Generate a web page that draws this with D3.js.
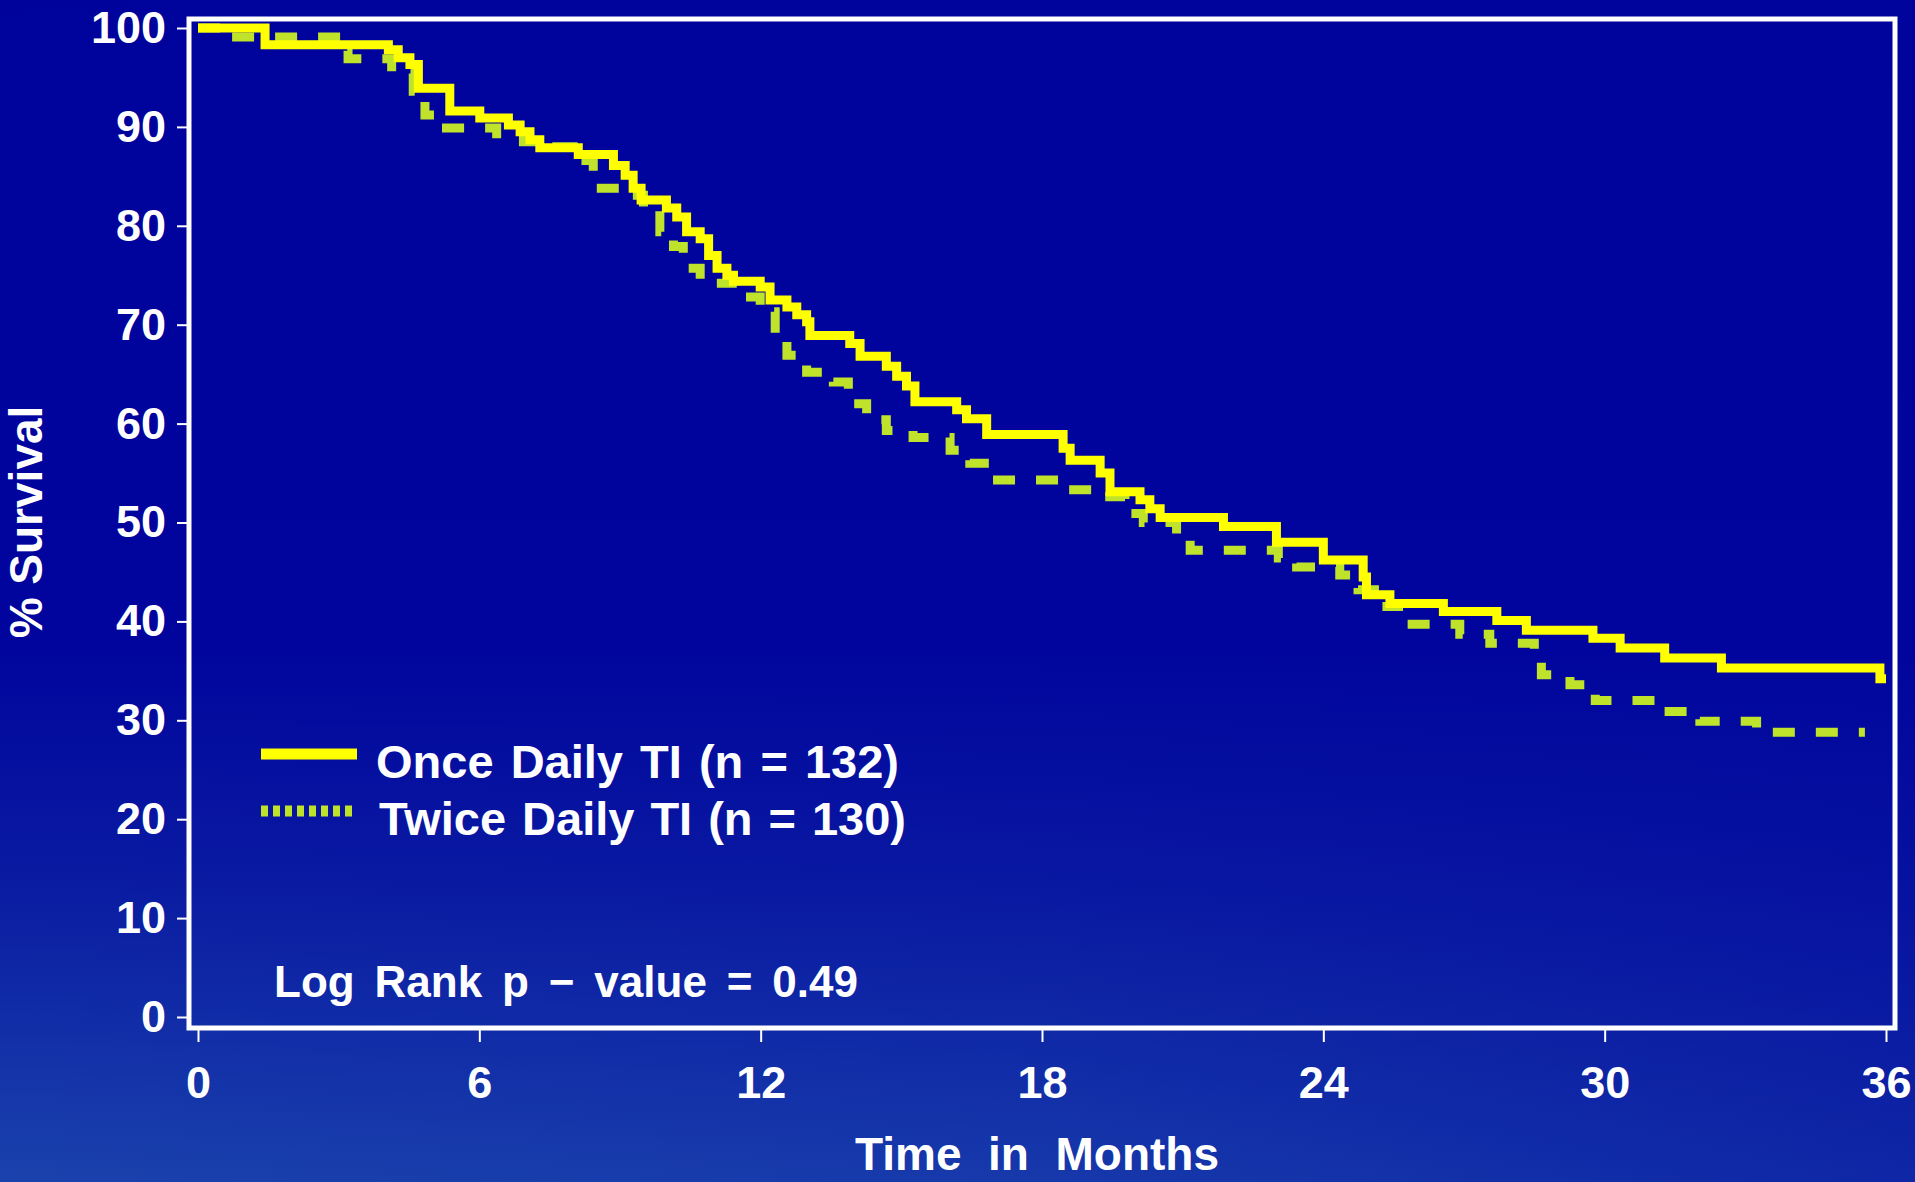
<!DOCTYPE html>
<html>
<head>
<meta charset="utf-8">
<script src="https://cdn.jsdelivr.net/npm/d3@7"></script>
<style>
  html, body { margin: 0; padding: 0; background: #01049a; overflow: hidden; }
  svg { display: block; }
  text { font-family: "Liberation Sans", Arial, Helvetica, sans-serif; font-weight: bold; fill: #ffffff; }
</style>
</head>
<body>
<svg id="chart" width="1915" height="1182"></svg>
<script>
// ---- data ----
const onceMonths = [0, 1.43, 4.06, 4.27, 4.52, 4.70, 5.37, 6.01, 6.62, 6.87, 7.08, 7.29, 8.11, 8.86, 9.11, 9.28, 9.45, 9.99, 10.21, 10.42, 10.71, 10.89, 11.07, 11.28, 11.42, 11.99, 12.2, 12.56, 12.77, 12.98, 13.05, 13.9, 14.12, 14.68, 14.9, 15.11, 15.29, 16.18, 16.39, 16.82, 18.45, 18.6, 19.24, 19.45, 20.09, 20.3, 20.52, 21.87, 23.0, 24.0, 24.85, 24.92, 25.42, 26.56, 27.7, 28.33, 29.75, 30.33, 31.28, 32.49, 35.87, 36.0];
const onceSurv   = [100, 98.3, 97.8, 97.0, 96.3, 93.9, 91.6, 90.9, 90.2, 89.5, 88.7, 87.9, 87.2, 86.1, 85.1, 83.8, 82.6, 81.8, 80.9, 79.4, 78.7, 77.0, 75.7, 75.0, 74.4, 73.8, 72.5, 71.8, 71.0, 70.3, 68.9, 68.1, 66.8, 65.8, 64.8, 63.8, 62.2, 61.4, 60.5, 58.9, 57.5, 56.3, 55.0, 53.1, 52.3, 51.4, 50.5, 49.6, 48.0, 46.2, 44.5, 42.7, 41.8, 41.0, 40.1, 39.1, 38.3, 37.3, 36.3, 35.3, 34.2, 34.2];

const twiceMonths = [0, 0.72, 3.05, 3.2, 4.13, 4.59, 4.84, 5.3, 6.37, 6.94, 7.54, 8.0, 8.43, 9.0, 9.5, 9.85, 10.14, 10.35, 10.71, 11.49, 11.99, 12.31, 12.56, 12.98, 13.55, 13.87, 14.26, 14.68, 15.25, 16.04, 16.46, 16.93, 18.56, 19.13, 19.77, 20.16, 20.87, 21.16, 23.04, 23.43, 24.35, 24.74, 25.09, 25.7, 26.91, 27.55, 28.5, 28.65, 29.26, 29.8, 31.25, 32.03, 33.24, 35.55];
const twiceSurv   = [100, 99.1, 97.7, 96.9, 95.4, 93.6, 91.2, 89.9, 89.3, 88.5, 88.0, 86.6, 83.8, 83.1, 81.6, 79.4, 77.9, 75.7, 74.2, 72.8, 71.3, 69.1, 66.9, 65.2, 64.2, 62.0, 60.4, 59.3, 58.6, 57.3, 56.0, 54.3, 53.3, 52.6, 50.9, 50.0, 48.2, 47.2, 46.4, 45.5, 44.7, 43.2, 41.5, 39.7, 38.7, 37.8, 37.0, 34.6, 33.6, 32.0, 30.9, 29.9, 28.8, 28.8];

const xTickValues = [0, 6, 12, 18, 24, 30, 36];
const yTickValues = [0, 10, 20, 30, 40, 50, 60, 70, 80, 90, 100];
const seriesLabels = ["Once Daily TI (n=132)", "Twice Daily TI (n=130)"];
const pValueLabel = "Log Rank p\u2212value=0.49";
const xTitle = "Time in Months";
const yTitle = "% Survival";

// ---- drawing ----
const svg = d3.select("#chart");
const defs = svg.append("defs");

const vg = defs.append("linearGradient").attr("id", "bgV").attr("x1", 0).attr("y1", 0).attr("x2", 0).attr("y2", 1);
vg.append("stop").attr("offset", "0%").attr("stop-color", "#00029c");
vg.append("stop").attr("offset", "55%").attr("stop-color", "#01059d");
vg.append("stop").attr("offset", "75%").attr("stop-color", "#0a1ca2");
vg.append("stop").attr("offset", "100%").attr("stop-color", "#1a42ad");

const hg = defs.append("linearGradient").attr("id", "bgH").attr("x1", 0).attr("y1", 0).attr("x2", 1).attr("y2", 0);
hg.append("stop").attr("offset", "0%").attr("stop-color", "#01059d").attr("stop-opacity", 0);
hg.append("stop").attr("offset", "55%").attr("stop-color", "#01059d").attr("stop-opacity", 0.15);
hg.append("stop").attr("offset", "100%").attr("stop-color", "#01059d").attr("stop-opacity", 0.45);

svg.append("rect").attr("width", 1915).attr("height", 1182).attr("fill", "url(#bgV)");
svg.append("rect").attr("width", 1915).attr("height", 1182).attr("fill", "url(#bgH)");

const x = d3.scaleLinear().domain([0, 36]).range([198, 1886]);
const y = d3.scaleLinear().domain([0, 100]).range([1017, 28]);

// frame
svg.append("rect")
  .attr("x", 189).attr("y", 19).attr("width", 1706).attr("height", 1009)
  .attr("fill", "none").attr("stroke", "#ffffff").attr("stroke-width", 5);

// axes
const xAxis = svg.append("g").attr("transform", "translate(0,1030)")
  .call(d3.axisBottom(x).tickValues(xTickValues).tickSize(12).tickPadding(24).tickFormat(d3.format("d")));
const yAxis = svg.append("g").attr("transform", "translate(188,0)")
  .call(d3.axisLeft(y).tickValues(yTickValues).tickSize(11).tickPadding(11).tickFormat(d3.format("d")));
[xAxis, yAxis].forEach(g => {
  g.select(".domain").remove();
  g.selectAll(".tick line").attr("stroke", "#ffffff").attr("stroke-width", 2);
  g.selectAll(".tick text").attr("fill", "#ffffff").style("font-size", "45px")
    .style("font-family", "'Liberation Sans', Arial, sans-serif").style("font-weight", "bold");
});

// curves
const line = d3.line().curve(d3.curveStepAfter).x(d => x(d[0])).y(d => y(d[1]));
const onceData = onceMonths.map((m, i) => [m, onceSurv[i]]);
const twiceData = twiceMonths.map((m, i) => [m, twiceSurv[i]]);

svg.append("path").datum(twiceData).attr("d", line)
  .attr("fill", "none").attr("stroke", "#bfe32a").attr("stroke-width", 9)
  .attr("stroke-dasharray", "22,21");
svg.append("path").datum(onceData).attr("d", line)
  .attr("fill", "none").attr("stroke", "#ffff00").attr("stroke-width", 9)
  .attr("stroke-linejoin", "miter");

// helper: fit a text to a target width by widening its word gaps
function fitWords(sel, target) {
  const node = sel.node();
  const len = node.getComputedTextLength();
  const spaces = (sel.text().match(/ /g) || []).length;
  if (spaces > 0 && len < target) sel.attr("word-spacing", (target - len) / spaces);
  else if (len > target) sel.attr("textLength", target).attr("lengthAdjust", "spacingAndGlyphs");
}

// legend
const legend = svg.append("g");
legend.append("line").attr("x1", 261).attr("x2", 357).attr("y1", 754).attr("y2", 754)
  .attr("stroke", "#ffff00").attr("stroke-width", 11);
legend.append("line").attr("x1", 261).attr("x2", 357).attr("y1", 811).attr("y2", 811)
  .attr("stroke", "#bfe32a").attr("stroke-width", 11).attr("stroke-dasharray", "7,5");
fitWords(legend.append("text").attr("x", 376).attr("y", 778).style("font-size", "47px")
  .text(seriesLabels[0].replace("=", " = ")), 523);
fitWords(legend.append("text").attr("x", 379).attr("y", 835).style("font-size", "47px")
  .text(seriesLabels[1].replace("=", " = ")), 527);

fitWords(svg.append("text").attr("x", 274).attr("y", 997).style("font-size", "44px")
  .text(pValueLabel.replace("\u2212", " \u2212 ").replace("=", " = ")), 584);

// axis titles
fitWords(svg.append("text").attr("x", 855).attr("y", 1170).style("font-size", "46px")
  .text(xTitle), 364);
svg.append("text").attr("transform", "translate(42,522) rotate(-90)")
  .attr("text-anchor", "middle").style("font-size", "46px").text(yTitle);
</script>
</body>
</html>
